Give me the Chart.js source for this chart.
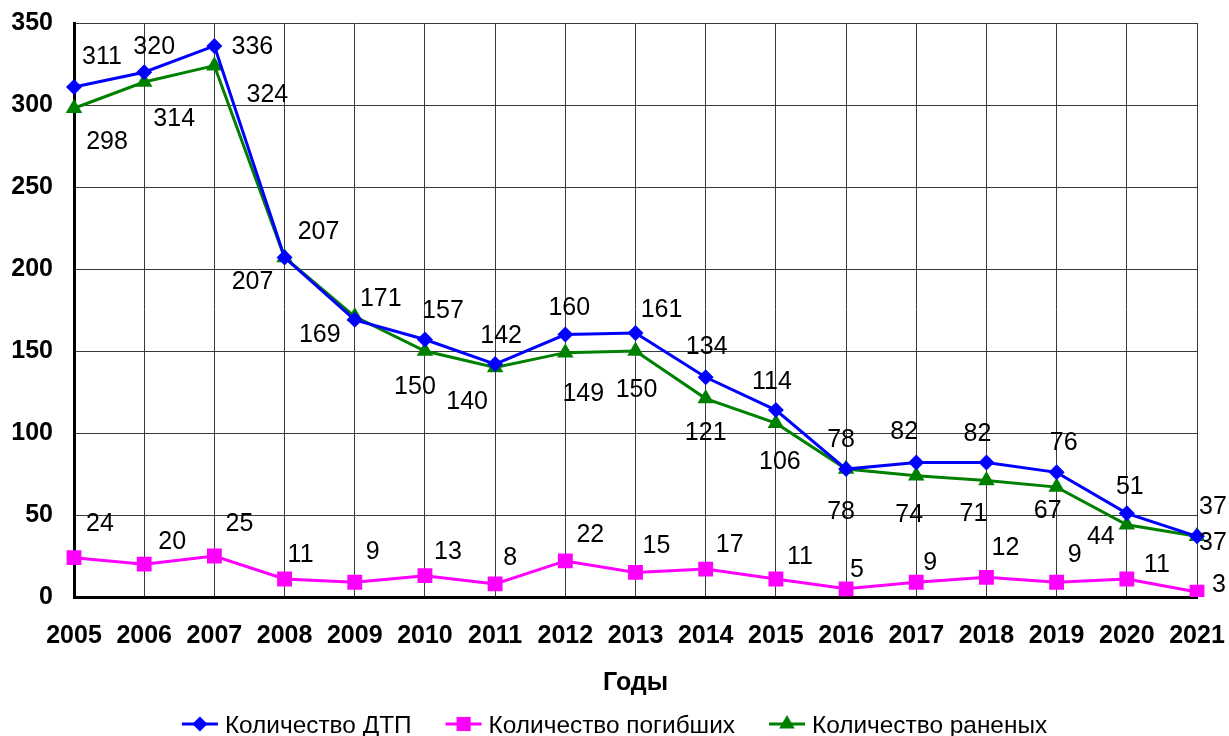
<!DOCTYPE html>
<html>
<head>
<meta charset="utf-8">
<script src="https://cdn.jsdelivr.net/npm/chart.js@4/dist/chart.umd.min.js"></script>
<style>
  html, body { margin: 0; padding: 0; background: #fff; }
  #wrap { width: 1229px; height: 736px; position: relative; }
</style>
</head>
<body>
<div id="wrap"><canvas id="c" width="1229" height="736"></canvas></div>
<script>
const years = ['2005','2006','2007','2008','2009','2010','2011','2012','2013','2014','2015','2016','2017','2018','2019','2020','2021'];
const accidents = [311, 320, 336, 207, 169, 157, 142, 160, 161, 134, 114, 78, 82, 82, 76, 51, 37];
const killed    = [24, 20, 25, 11, 9, 13, 8, 22, 15, 17, 11, 5, 9, 12, 9, 11, 3];
const injured   = [298, 314, 324, 207, 171, 150, 140, 149, 150, 121, 106, 78, 74, 71, 67, 44, 37];
const seriesNames = ['Количество ДТП', 'Количество погибших', 'Количество раненых'];
const yTicks = [0, 50, 100, 150, 200, 250, 300, 350];
const axisTitle = 'Годы';

// label placement (pixel offsets from each point) – styling only
const labelOffsets = [
  [[28,-31],[10,-26],[38,0],[34,-26],[-35,14],[18,-29],[6,-29],[4,-27],[26,-24],[1,-31],[-4,-29],[-5,-30],[-12,-31],[-9,-29],[7,-30],[3,-27],[16,-30]],
  [[26,-35],[28,-23],[25,-33],[16,-25],[18,-31],[23,-25],[15,-27],[25,-27],[21,-27],[24,-25],[24,-23],[11,-20],[14,-20],[19,-30],[18,-28],[30,-15],[22,-8]],
  [[33,33],[30,36],[53,28],[-32,24],[26,-18],[-10,35],[-28,34],[18,40],[1,38],[0,34],[4,38],[-5,42],[-7,38],[-13,33],[-9,23],[-26,11],[16,6]]
];

const FONT = "'Liberation Sans', Arial, sans-serif";
const colors = ['#0000FF', '#FF00FF', '#008000'];
const styles = ['rectRot', 'rect', 'triangle'];
const radii = [8, 10.5, 9.5];

const dataLabels = {
  id: 'dataLabels',
  afterDatasetsDraw(chart) {
    const ctx = chart.ctx;
    ctx.save();
    ctx.font = '25px ' + FONT;
    ctx.fillStyle = '#000';
    ctx.textAlign = 'center';
    ctx.textBaseline = 'middle';
    chart.data.datasets.forEach((ds, di) => {
      const meta = chart.getDatasetMeta(di);
      meta.data.forEach((pt, i) => {
        const off = labelOffsets[di][i];
        ctx.fillText(String(ds.data[i]), pt.x + off[0], pt.y + off[1] + 1);
      });
    });
    ctx.restore();
  }
};

function drawMarker(ctx, style, x, y, r, color) {
  ctx.fillStyle = color;
  ctx.beginPath();
  if (style === 'rectRot') {
    ctx.moveTo(x, y - r); ctx.lineTo(x + r, y); ctx.lineTo(x, y + r); ctx.lineTo(x - r, y);
  } else if (style === 'rect') {
    const s = r * Math.SQRT1_2;
    ctx.rect(x - s, y - s, 2 * s, 2 * s);
  } else {
    ctx.moveTo(x, y - r);
    ctx.lineTo(x + r * Math.sin(Math.PI * 2 / 3), y - r * Math.cos(Math.PI * 2 / 3));
    ctx.lineTo(x + r * Math.sin(Math.PI * 4 / 3), y - r * Math.cos(Math.PI * 4 / 3));
  }
  ctx.closePath();
  ctx.fill();
}

const bottomLegend = {
  id: 'bottomLegend',
  afterDraw(chart) {
    const ctx = chart.ctx;
    ctx.save();
    ctx.font = '24.4px ' + FONT;
    ctx.textBaseline = 'middle';
    ctx.textAlign = 'left';
    const lineW = 36, textGap = 7, itemGap = 34;
    const widths = chart.data.datasets.map(ds => lineW + textGap + ctx.measureText(ds.label).width);
    const total = widths.reduce((a, b) => a + b, 0) + itemGap * (widths.length - 1);
    let x = chart.width / 2 - total / 2;
    const y = 724;
    chart.data.datasets.forEach((ds, di) => {
      ctx.strokeStyle = colors[di];
      ctx.lineWidth = 3;
      ctx.beginPath(); ctx.moveTo(x, y); ctx.lineTo(x + lineW, y); ctx.stroke();
      drawMarker(ctx, styles[di], x + lineW / 2, y, radii[di] * 0.95, colors[di]);
      ctx.fillStyle = '#000';
      ctx.fillText(ds.label, x + lineW + textGap, y + 2);
      x += widths[di] + itemGap;
    });
    ctx.restore();
  }
};

const seriesData = [accidents, killed, injured];
const datasets = seriesData.map((d, i) => ({
  label: seriesNames[i],
  data: d,
  borderColor: colors[i],
  backgroundColor: colors[i],
  borderWidth: 3,
  pointStyle: styles[i],
  pointRadius: radii[i],
  pointHoverRadius: radii[i],
  pointBorderWidth: 0,
  pointBackgroundColor: colors[i],
  tension: 0,
  fill: false
}));
datasets[0].order = 0; datasets[1].order = 2; datasets[2].order = 1;

new Chart(document.getElementById('c'), {
  type: 'line',
  data: { labels: years, datasets },
  options: {
    responsive: false,
    animation: false,
    devicePixelRatio: 1,
    layout: { padding: { top: 23, right: 32, left: 0, bottom: 36 } },
    plugins: {
      legend: { display: false },
      tooltip: { enabled: false }
    },
    scales: {
      x: {
        offset: false,
        grid: { color: '#3a3a3a', lineWidth: 1, drawTicks: false },
        border: { color: '#000', width: 3 },
        ticks: { color: '#000', font: { family: FONT, size: 25, weight: 'bold' }, padding: 24, maxRotation: 0, autoSkip: false },
        title: { display: true, text: axisTitle, color: '#000', font: { family: FONT, size: 25, weight: 'bold' }, padding: { top: 0, bottom: 2 } },
        afterFit(s) { s.height = 103; s.paddingLeft = 0; s.paddingRight = 0; }
      },
      y: {
        min: 0, max: 350,
        afterBuildTicks(s) { s.ticks = yTicks.map(v => ({ value: v })); },
        grid: { color: '#3a3a3a', lineWidth: 1, drawTicks: false },
        border: { color: '#000', width: 3 },
        ticks: { color: '#000', font: { family: FONT, size: 25, weight: 'bold' }, padding: 21 },
        afterFit(s) { s.width = 74; s.paddingTop = 0; s.paddingBottom = 0; }
      }
    }
  },
  plugins: [dataLabels, bottomLegend]
});
</script>
</body>
</html>
